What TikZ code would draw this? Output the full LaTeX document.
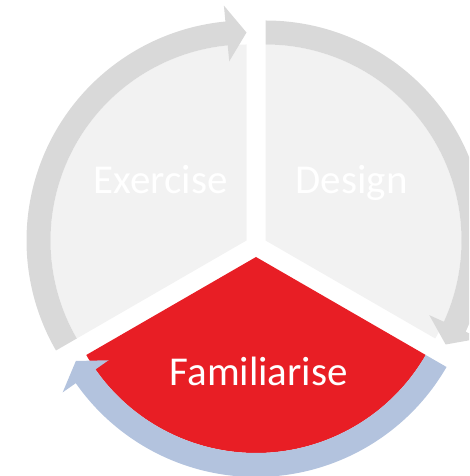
\documentclass[tikz,border=0pt]{standalone}
\usepackage{fontspec}
\setmainfont{Carlito}
\definecolor{bandgray}{HTML}{D9D9D9}
\definecolor{sectgray}{HTML}{F2F2F2}
\definecolor{famred}{HTML}{E81E25}
\definecolor{bandblue}{HTML}{B3C3DE}
% #1 centre, #2 start angle, #3 head base angle, #4 tip angle, #5 colour
\newcommand{\cyclearrow}[5]{%
  \fill[#5,shift={#1}] (#2:220) arc[start angle=#2,end angle=#3,radius=220]
    -- (#3:236) -- (#4:208) -- (#3:180) -- (#3:196)
    arc[start angle=#3,end angle=#2,radius=196] -- cycle;}
\newcommand{\sector}[4]{%
  \fill[#4,shift={#1}] (0,0) -- (#2:196) arc[start angle=#2,end angle=#3,radius=196] -- cycle;}
\tikzset{lbl/.style={font=\fontsize{41}{49}\selectfont, anchor=base, inner sep=0pt}}
\begin{document}
\begin{tikzpicture}[x=1pt,y=1pt]
\useasboundingbox (0,0) rectangle (469,476);
\clip (0,0) rectangle (469,476);
\coordinate (E) at (246.5,235.5);
\coordinate (D) at (265.5,235.5);
\coordinate (F) at (256,219);
\sector{(E)}{90}{210}{sectgray}
\sector{(D)}{-30}{90}{sectgray}
\sector{(F)}{210}{330}{famred}
\cyclearrow{(E)}{210}{95.5}{90}{bandgray}
\cyclearrow{(D)}{90}{-24.5}{-30}{bandgray}
\cyclearrow{(F)}{-30}{-145}{-150}{bandblue}
\node[lbl, text=white] (ex) at (160.7,282.7) {Exercise};
\node[lbl, text=white] (de) at (351.7,282.7) {Design};
\node[lbl, text=white] (fa) at (258.7,90.3) {Familiarise};
\end{tikzpicture}
\end{document}
